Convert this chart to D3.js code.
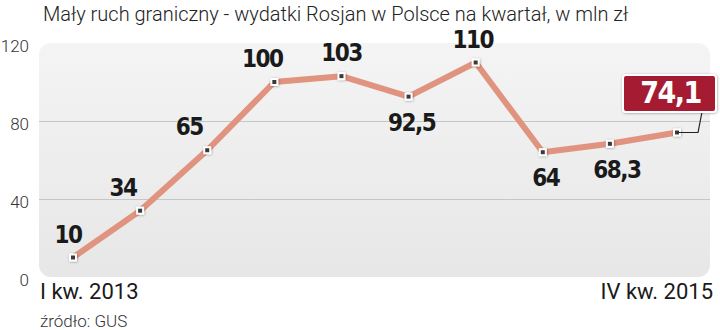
<!DOCTYPE html>
<html>
<head>
<meta charset="utf-8">
<script src="https://cdn.jsdelivr.net/npm/d3@7"></script>
<style>
  body { margin: 0; background: #fff; }
  svg { display: block; }
</style>
</head>
<body>
<div id="chart"></div>
<script>
var title = "Mały ruch graniczny - wydatki Rosjan w Polsce na kwartał, w mln zł";
var source = "źródło: GUS";
var values = [10, 34, 65, 100, 103, 92.5, 110, 64, 68.3, 74.1];
var valueLabels = ["10", "34", "65", "100", "103", "92,5", "110", "64", "68,3", "74,1"];
var firstLabel = "I kw. 2013";
var lastLabel = "IV kw. 2015";
var yTicks = [0, 40, 80, 120];

// label placement per point: [dx, above/below]
var labelPlace = [[-5, "a"], [-17, "a"], [-18, "a"], [-12, "a"], [0, "a"], [3, "b"], [-3, "a"], [3, "b"], [7, "b"], [0, "box"]];

var W = 720, H = 330;
var svg = d3.select("#chart").append("svg")
  .attr("width", W).attr("height", H);

var x = d3.scaleLinear().domain([0, values.length - 1]).range([73, 677]);
var y = d3.scaleLinear().domain([0, 120]).range([277, 43]);

var defs = svg.append("defs");
var grad = defs.append("linearGradient").attr("id", "bg")
  .attr("x1", 0).attr("y1", 0).attr("x2", 0).attr("y2", 1);
grad.append("stop").attr("offset", "0%").attr("stop-color", "#f4f4f4");
grad.append("stop").attr("offset", "100%").attr("stop-color", "#e7e7e7");

var shadow = defs.append("filter").attr("id", "sh")
  .attr("x", "-50%").attr("y", "-50%").attr("width", "200%").attr("height", "200%");
shadow.append("feDropShadow").attr("dx", 0.5).attr("dy", 0.5)
  .attr("stdDeviation", 1).attr("flood-color", "#000").attr("flood-opacity", 0.35);

// panel
svg.append("rect")
  .attr("x", 39).attr("y", y(120))
  .attr("width", 671).attr("height", y(0) - y(120))
  .attr("rx", 12)
  .attr("fill", "url(#bg)");

// gridlines
svg.selectAll(".grid")
  .data(yTicks.filter(function(d) { return d > 0 && d < 120; }))
  .enter().append("line")
  .attr("x1", 39).attr("x2", 710)
  .attr("y1", function(d) { return y(d) + 0.5; })
  .attr("y2", function(d) { return y(d) + 0.5; })
  .attr("stroke", "#c6c6c6").attr("stroke-width", 1);

// y axis labels
svg.selectAll(".ytick")
  .data(yTicks)
  .enter().append("text")
  .attr("x", 29)
  .attr("y", function(d) { return y(d) + 9; })
  .attr("text-anchor", "end")
  .style("font-family", "Roboto, 'Open Sans', sans-serif")
  .style("font-weight", 300)
  .style("font-size", "17px")
  .style("fill", "#333")
  .text(function(d) { return d; });

// line
var line = d3.line()
  .x(function(d, i) { return x(i); })
  .y(function(d) { return y(d); });

svg.append("path")
  .attr("d", line(values))
  .attr("fill", "none")
  .attr("stroke", "#e0937e")
  .attr("stroke-width", 6)
  .attr("stroke-linejoin", "round");

// markers
var marks = svg.selectAll(".mk")
  .data(values)
  .enter().append("g")
  .attr("transform", function(d, i) { return "translate(" + x(i) + "," + y(d) + ")"; });
marks.append("rect")
  .attr("x", -4).attr("y", -4).attr("width", 8).attr("height", 8)
  .attr("fill", "#fff").attr("filter", "url(#sh)");
marks.append("rect")
  .attr("x", -2).attr("y", -2).attr("width", 4).attr("height", 4)
  .attr("fill", "#3a3a3a");

// value labels
var labelFont = "'DejaVu Sans Condensed', 'DejaVu Sans', sans-serif";
svg.selectAll(".vl")
  .data(values)
  .enter().filter(function(d, i) { return labelPlace[i][1] !== "box"; })
  .append("text")
  .attr("x", function(d, i) { return x(i) + labelPlace[i][0]; })
  .attr("y", function(d, i) { return y(d) + (labelPlace[i][1] === "a" ? -15 : 34); })
  .attr("text-anchor", "middle")
  .style("font-family", labelFont)
  .style("font-stretch", "condensed")
  .style("font-weight", "bold")
  .style("font-size", "24px")
  .style("letter-spacing", "-1.5px")
  .style("fill", "#1a1a1a")
  .text(function(d, i) { return valueLabels[i]; });

// highlighted last value
var li = values.length - 1;
var px = x(li), py = y(values[li]);
var bx = 623, bw = 93, bh = 37, by = 75;
svg.append("path")
  .attr("d", "M" + px + "," + py + "H" + (px + 21) + "L" + (px + 25) + "," + (by + bh))
  .attr("fill", "none").attr("stroke", "#222").attr("stroke-width", 1.2);
svg.append("rect")
  .attr("x", bx).attr("y", by).attr("width", bw).attr("height", bh)
  .attr("rx", 3)
  .attr("fill", "#a51b30").attr("stroke", "#fff").attr("stroke-width", 2)
  .attr("filter", "url(#sh)");
svg.append("text")
  .attr("x", bx + bw / 2 + 1).attr("y", by + 28)
  .attr("text-anchor", "middle")
  .style("font-family", labelFont)
  .style("font-stretch", "condensed")
  .style("font-weight", "bold")
  .style("font-size", "30px")
  .style("letter-spacing", "-1.5px")
  .style("fill", "#fff")
  .text(valueLabels[li]);

// x labels
svg.append("text")
  .attr("x", 40).attr("y", 299)
  .style("font-family", "Roboto, sans-serif")
  .style("font-size", "22px")
  .style("fill", "#1a1a1a")
  .text(firstLabel);
svg.append("text")
  .attr("x", 713).attr("y", 299)
  .attr("text-anchor", "end")
  .style("font-family", "Roboto, sans-serif")
  .style("font-size", "22px")
  .style("fill", "#1a1a1a")
  .text(lastLabel);

// title and source
svg.append("text")
  .attr("x", 43).attr("y", 21)
  .style("font-family", "Roboto, sans-serif")
  .style("font-weight", 300)
  .style("font-size", "20px")
  .style("fill", "#222")
  .text(title);
svg.append("text")
  .attr("x", 40).attr("y", 327)
  .style("font-family", "Roboto, sans-serif")
  .style("font-weight", 300)
  .style("font-size", "17px")
  .style("fill", "#333")
  .text(source);
</script>
</body>
</html>
